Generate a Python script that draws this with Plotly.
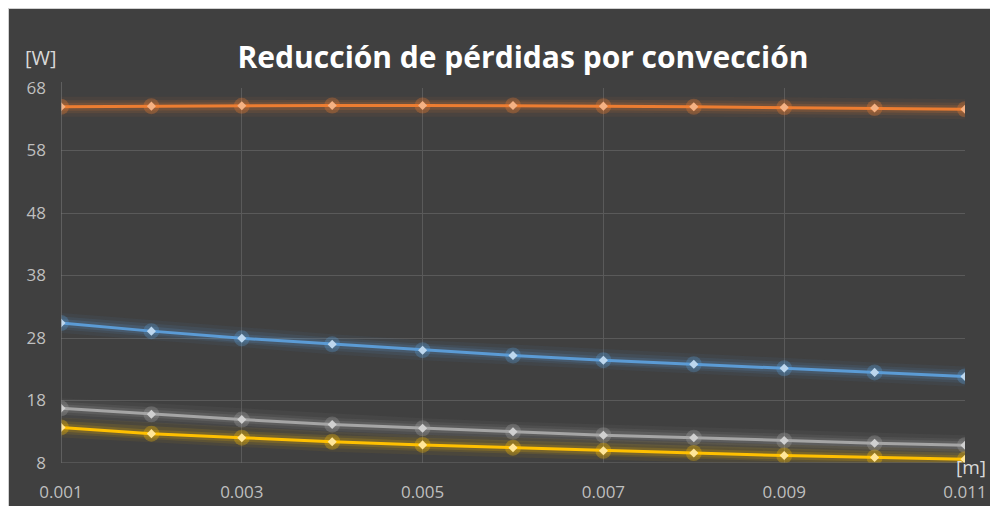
import plotly.graph_objects as go

x_vals = [0.001, 0.002, 0.003, 0.004, 0.005, 0.006, 0.007, 0.008, 0.009, 0.010, 0.011]
orange = [65.0, 65.1, 65.15, 65.2, 65.2, 65.2, 65.1, 65.0, 64.9, 64.8, 64.6]
blue = [30.4, 29.1, 27.95, 27.0, 26.05, 25.2, 24.45, 23.8, 23.15, 22.5, 21.85]
gray = [16.75, 15.8, 14.95, 14.15, 13.55, 13.0, 12.45, 12.05, 11.6, 11.15, 10.85]
yellow = [13.7, 12.7, 12.05, 11.4, 10.9, 10.45, 9.95, 9.6, 9.2, 8.9, 8.6]
x_ticks = [0.001, 0.003, 0.005, 0.007, 0.009, 0.011]
x_tick_labels = ["0.001", "0.003", "0.005", "0.007", "0.009", "0.011"]
y_ticks = [8, 18, 28, 38, 48, 58, 68]

series = [
    (orange, "#ed7d31", "#f4b183", "rgba(237,125,49,{a})"),
    (blue, "#5b9bd5", "#bdd7ee", "rgba(91,155,213,{a})"),
    (gray, "#a5a5a5", "#d0d0d0", "rgba(165,165,165,{a})"),
    (yellow, "#ffc000", "#ffe699", "rgba(255,192,0,{a})"),
]

fig = go.Figure()
for ys, col, mcol, rgba in series:
    for w, a in [(20, 0.06), (13, 0.10), (8, 0.16)]:
        fig.add_trace(go.Scatter(x=x_vals, y=ys, mode="lines",
                                 line=dict(color=rgba.format(a=a), width=w),
                                 hoverinfo="skip", showlegend=False))
    fig.add_trace(go.Scatter(x=x_vals, y=ys, mode="markers",
                             marker=dict(color=rgba.format(a=0.3), size=16, line=dict(width=0)),
                             hoverinfo="skip", showlegend=False))
for ys, col, mcol, rgba in series:
    fig.add_trace(go.Scatter(x=x_vals, y=ys, mode="lines+markers",
                             line=dict(color=col, width=3),
                             marker=dict(color=mcol, size=7, symbol="diamond", line=dict(width=0)),
                             showlegend=False))

W, H = 990, 498
ml, mr, mt, mb = 53, 33, 80, 43
pw, ph = W - ml - mr, H - mt - mb

def px(xp):
    return (xp - ml) / pw

def py(yp):
    return (H - mb - yp) / ph

# light frame edges (top and left)
fig.add_shape(type="line", xref="paper", yref="paper",
              x0=px(0), x1=px(W + 5), y0=py(0), y1=py(0),
              line=dict(color="#d0d0d0", width=2), layer="below")
fig.add_shape(type="line", xref="paper", yref="paper",
              x0=px(0), x1=px(0), y0=py(0), y1=py(H + 5),
              line=dict(color="#d0d0d0", width=2), layer="below")

fig.update_layout(
    width=W, height=H,
    margin=dict(l=ml, r=mr, t=mt, b=mb, autoexpand=False),
    paper_bgcolor="#404040",
    plot_bgcolor="#404040",
    title=dict(text="<b>Reducción de pérdidas por convección</b>", x=px(515), xanchor="center",
               xref="paper", y=1 - 49 / H, yanchor="middle",
               font=dict(family="Open Sans", size=30, color="white")),
    font=dict(family="Open Sans", color="#bfbfbf"),
    xaxis=dict(range=[0.001, 0.011], tickvals=x_ticks, ticktext=x_tick_labels,
               showgrid=True, gridcolor="#5a5a5a", gridwidth=1, zeroline=False,
               showline=False, tickfont=dict(size=17, color="#bfbfbf"), ticks="",
               ticklabelstandoff=17, automargin=False),
    yaxis=dict(range=[8, 68], tickvals=y_ticks, showgrid=True, gridcolor="#5a5a5a",
               gridwidth=1, zeroline=False, showline=False,
               tickfont=dict(size=17, color="#bfbfbf"), ticks="", ticklabelstandoff=14,
               automargin=False),
)
fig.add_annotation(text="[W]", xref="paper", yref="paper", x=px(15), y=py(50),
                   xanchor="left", yanchor="middle", showarrow=False,
                   font=dict(family="Open Sans", size=20, color="#d9d9d9"))
fig.add_annotation(text="[m]", xref="paper", yref="paper", x=px(946), y=py(459),
                   xanchor="left", yanchor="middle", showarrow=False,
                   font=dict(family="Open Sans", size=19, color="#d9d9d9"))
fig.add_shape(type="line", xref="x", yref="paper", x0=0.001, x1=0.001, y0=0, y1=py(74),
              line=dict(color="#7f7f7f", width=1))
fig.add_shape(type="line", xref="x", yref="y", x0=0.001, x1=0.011, y0=8, y1=8,
              line=dict(color="#6a6a6a", width=1))

fig.write_html("out.html")
